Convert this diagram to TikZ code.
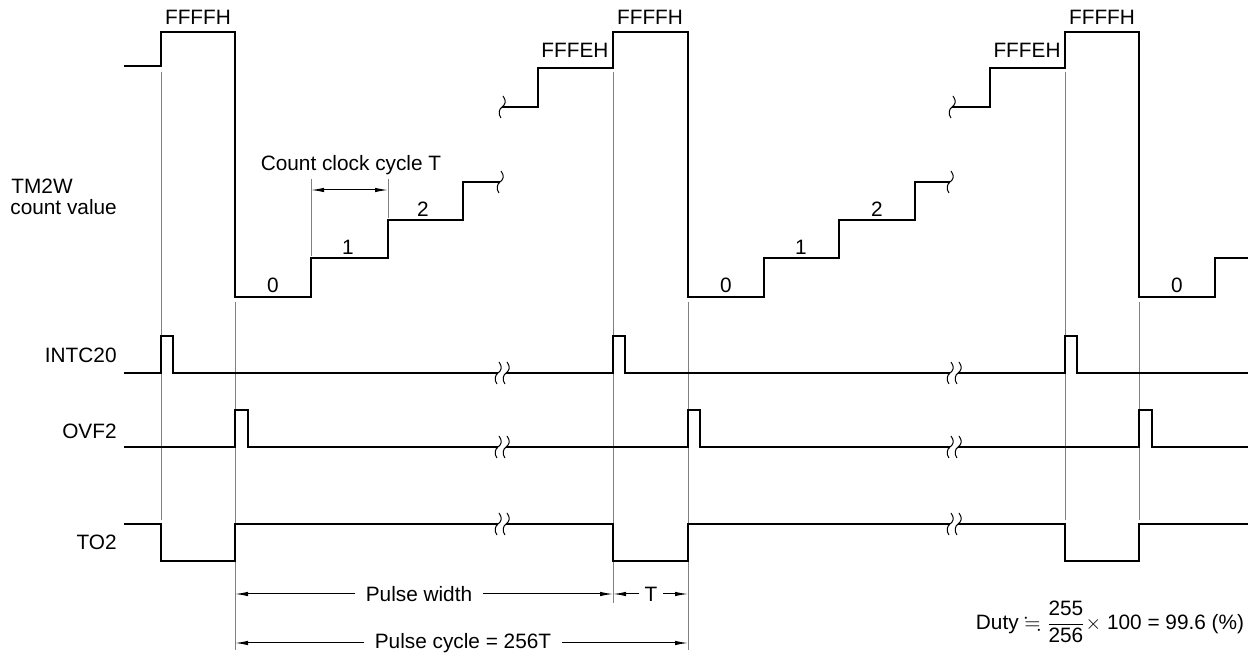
\documentclass[tikz,border=0pt]{standalone}
\usepackage{amsmath,amssymb}
\usepackage{fontspec}
\setmainfont{Liberation Sans}
\usetikzlibrary{arrows.meta}

\tikzset{
  wave/.pic={\draw[line width=0.5pt] (1,-11) .. controls (5,-6) and (3,-2) .. (0,0) .. controls (-3,2) and (-4,7) .. (-1,11);},
  wavepair/.pic={\fill[white] (-4,-6) rectangle (4,6);
    \draw[line width=0.5pt] (-3,-11) .. controls (1,-6) and (-1,-2) .. (-4,0) .. controls (-7,2) and (-8,7) .. (-5,11);
    \draw[line width=0.5pt] (5,-11) .. controls (9,-6) and (7,-2) .. (4,0) .. controls (1,2) and (0,7) .. (3,11);}
}

\begin{document}
\begin{tikzpicture}[x=0.5pt, y=-0.5pt, every node/.style={font=\fontsize{10.4}{12}\selectfont, inner sep=0pt}, >={Latex[length=6.5pt,width=2.2pt]},
  sig/.style={line width=1.2pt, line join=miter},
  guide/.style={gray, line width=0.5pt},
  dim/.style={line width=0.5pt}]
	\useasboundingbox (0,0) rectangle (1260,656);
	% guide lines
	\foreach \x/\ya/\yb in {161/72/520, 235/302/650, 613/72/603, 688/302/650, 1065/72/520, 1139/302/520, 311/179/256, 388/179/218}
		\draw[guide] (\x,\ya) -- (\x,\yb);
	% TM2W count value
	\draw[sig] (124,66) -- (161,66) -- (161,32) -- (235,32) -- (235,297) -- (311,297) -- (311,258) -- (388,258) -- (388,220) -- (463,220) -- (463,182) -- (500,182);
	\draw[sig] (502,107) -- (538,107) -- (538,68) -- (613,68) -- (613,32) -- (688,32) -- (688,297) -- (764,297) -- (764,258) -- (839,258) -- (839,220) -- (915,220) -- (915,182) -- (950,182);
	\draw[sig] (952,107) -- (990,107) -- (990,68) -- (1065,68) -- (1065,32) -- (1139,32) -- (1139,297) -- (1215,297) -- (1215,258) -- (1248,258);
	\foreach \p in {(500,182),(502,107),(950,182),(952,107)} {\pic at \p {wave};}
	% INTC20, OVF2, TO2
	\draw[sig] (124,373) -- (161,373) -- (161,336) -- (173,336) -- (173,373) -- (613,373) -- (613,336) -- (625,336) -- (625,373) -- (1065,373) -- (1065,336) -- (1077,336) -- (1077,373) -- (1248,373);
	\draw[sig] (124,447) -- (235,447) -- (235,410) -- (248,410) -- (248,447) -- (688,447) -- (688,410) -- (700,410) -- (700,447) -- (1139,447) -- (1139,410) -- (1152,410) -- (1152,447) -- (1248,447);
	\draw[sig] (124,524) -- (161,524) -- (161,561) -- (235,561) -- (235,524) -- (613,524) -- (613,561) -- (688,561) -- (688,524) -- (1065,524) -- (1065,561) -- (1139,561) -- (1139,524) -- (1248,524);
	\foreach \y in {373,447,524} {\pic at (502,\y) {wavepair}; \pic at (954,\y) {wavepair};}
	% labels
	\node[anchor=west] (tmw) at (11,186) {TM2W};
	\node[anchor=west] (tmcount) at (10,207) {count value};
	\node[anchor=east] (intc) at (117,355) {INTC20};
	\node[anchor=east] (ovf) at (117,431) {OVF2};
	\node[anchor=east] (tout) at (117,542) {TO2};
	\node (ffffa) at (198,17) {FFFFH};
	\node (ffffb) at (650,17) {FFFFH};
	\node (ffffc) at (1102,17) {FFFFH};
	\node (fffeb) at (575,50) {FFFEH};
	\node (fffec) at (1027,50) {FFFEH};
	\node (zeroa) at (273,285) {0};
	\node (onea) at (348,247) {1};
	\node (twoa) at (423,209) {2};
	\node (zerob) at (726,285) {0};
	\node (oneb) at (801,247) {1};
	\node (twob) at (877,209) {2};
	\node (zeroc) at (1177,285) {0};
	% dimensions
	\node (clk) at (351,165) {Count clock cycle T};
	\coordinate (clka) at (311,190);
	\coordinate (clkb) at (388,190);
	\draw[dim, <->] (clka) -- (clkb);
	\coordinate (pwa) at (235,594);
	\coordinate (pwb) at (613,594);
	\coordinate (pwc) at (688,594);
	\node[inner xsep=5pt] (pw) at (419,594) {Pulse width};
	\node[inner xsep=2.5pt] (tt) at (651,594) {T};
	\draw[dim, ->] (pw.west) -- (pwa);
	\draw[dim, ->] (pw.east) -- (pwb);
	\draw[dim, ->] (tt.west) -- (pwb);
	\draw[dim, ->] (tt.east) -- (pwc);
	\coordinate (pca) at (235,643);
	\coordinate (pcb) at (688,643);
	\node[inner xsep=5pt] (pc) at (463,643) {Pulse cycle = 256T};
	\draw[dim, ->] (pc.west) -- (pca);
	\draw[dim, ->] (pc.east) -- (pcb);
	\node (duty) at (1110,622) {Duty $\fallingdotseq \dfrac{\text{255}}{\text{256}} \times$ 100 = 99.6 (\%)};
\end{tikzpicture}
\end{document}
